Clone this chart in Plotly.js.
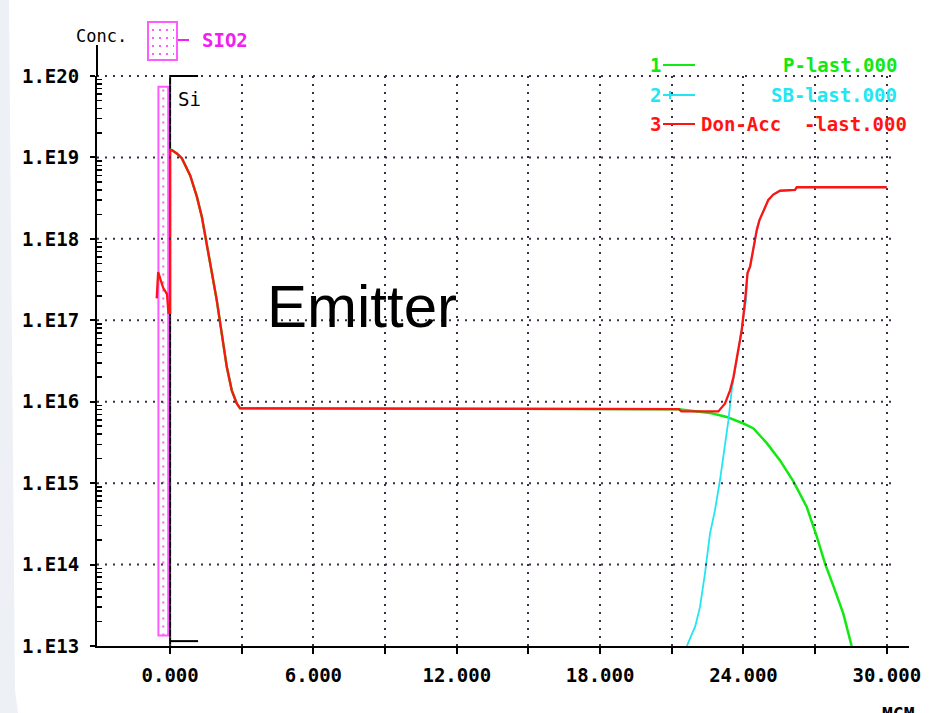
<!DOCTYPE html>
<html>
<head>
<meta charset="utf-8">
<script src="https://cdn.plot.ly/plotly-3.0.1.min.js"></script>
<style>html,body{margin:0;padding:0;background:#fff;}#chart{width:932px;height:713px;}</style>
</head>
<body>
<div id="chart"></div>
<script>
// ---------------- data (depth in um, concentration in cm^-3) ----------------
const xTicks = [0, 3, 6, 9, 12, 15, 18, 21, 24, 27, 30];
const xTickText = ['0.000', '', '6.000', '', '12.000', '', '18.000', '', '24.000', '', '30.000'];
const yTicks = [1e13, 1e14, 1e15, 1e16, 1e17, 1e18, 1e19, 1e20];
const yTickText = ['1.E13', '1.E14', '1.E15', '1.E16', '1.E17', '1.E18', '1.E19', '1.E20'];

// 3 - Don-Acc (net doping)
const donAccX = [-0.56, -0.50, -0.29, -0.13, -0.07, 0.00, 0.00, 0.07, 0.28, 0.49, 0.84, 1.12, 1.33, 1.54, 1.75, 1.95, 2.16, 2.37, 2.58, 2.79, 2.93,
  21.30, 21.40, 22.95, 23.23, 23.44, 23.58, 23.79, 23.93, 24.07, 24.17, 24.28, 24.42, 24.56, 24.67, 24.83, 25.04, 25.25, 25.53, 26.16, 26.23, 30.00];
const donAccY = [1.86e17, 3.9e17, 2.5e17, 2.1e17, 1.23e17, 1.23e17, 1.23e19, 1.23e19, 1.12e19, 9.8e18, 6.0e18, 3.3e18, 1.86e18, 7.9e17, 3.8e17, 1.78e17, 6.9e16, 2.7e16, 1.38e16, 9.5e15, 8.3e15,
  8.1e15, 7.6e15, 7.6e15, 9.5e15, 1.38e16, 2.0e16, 4.3e16, 7.6e16, 1.78e17, 3.8e17, 4.6e17, 7.9e17, 1.29e18, 1.70e18, 2.2e18, 3.0e18, 3.5e18, 3.9e18, 4.0e18, 4.3e18, 4.3e18];

// 1 - P
const pX = [0.00, 0.07, 0.28, 0.49, 0.84, 1.12, 1.33, 1.54, 1.75, 1.95, 2.16, 2.37, 2.58, 2.79, 2.93, 21.30, 22.67, 23.30, 24.00, 24.42, 24.98, 25.53, 26.09, 26.65, 27.07, 27.42, 27.77, 28.18, 28.53];
const pY = [1.23e19, 1.23e19, 1.12e19, 9.8e18, 6.0e18, 3.3e18, 1.86e18, 7.9e17, 3.8e17, 1.78e17, 6.9e16, 2.7e16, 1.38e16, 9.5e15, 8.3e15, 8.1e15, 7.2e15, 6.5e15, 5.4e15, 4.7e15, 3.1e15, 1.9e15, 1.05e15, 5.1e14, 2.2e14, 1.02e14, 5.4e13, 2.5e13, 1.0e13];

// 2 - SB (substrate boron)
const sbX = [21.63, 21.98, 22.18, 22.39, 22.60, 22.81, 23.02, 23.23, 23.37, 23.51, 23.79, 24.11, 24.17, 24.28, 24.42, 24.56, 24.67, 24.83, 25.04, 25.25, 25.53, 26.16, 26.23, 30.00];
const sbY = [1.0e13, 1.74e13, 3.0e13, 7.8e13, 2.4e14, 4.7e14, 1.1e15, 2.8e15, 5.9e15, 1.4e16, 4.3e16, 1.78e17, 3.8e17, 4.6e17, 7.9e17, 1.29e18, 1.70e18, 2.2e18, 3.0e18, 3.5e18, 3.9e18, 4.0e18, 4.3e18, 4.3e18];

// oxide layer extent (um) and drawn concentration span
const oxideX = [-0.49, -0.08];
const oxideY = [1.35e13, 7.4e19];

const legendNums = ['1', '2', '3'];
const legendNames = ['P-last.000', 'SB-last.000', 'Don-Acc  -last.000'];

// ---------------- styling ----------------
const GREEN = '#12e812', CYAN = '#22e6f2', RED = '#ff1414', MAG = '#f020f0', PINK = '#ff5cff';
const MONO = 'DejaVu Sans Mono, Liberation Mono, monospace';
const GRID = '#3c2c48';
const L = 97, R = 909, T = 76, B = 646;
const W = R - L, H = B - T;
const px = v => (v - L) / W;      // pixel -> paper x
const py = v => (B - v) / H;      // pixel -> paper y
const yc = c => (Math.log10(c) - 13) / 7;   // concentration -> paper y
const ye = e => (e - 13) / 7;               // decade exponent -> paper y

const traces = [
  {x: pX, y: pY, name: 'P-last.000', mode: 'lines', line: {color: GREEN, width: 2.5}},
  {x: sbX, y: sbY, name: 'SB-last.000', mode: 'lines', line: {color: CYAN, width: 1.8}},
  {x: donAccX, y: donAccY, name: 'Don-Acc -last.000', mode: 'lines', line: {color: RED, width: 2.3}}
];

const shapes = [];
// faint grey strip on left edge
shapes.push({type: 'path', xref: 'paper', yref: 'paper', layer: 'below',
  path: `M ${px(0)} ${py(0)} L ${px(9)} ${py(0)} L ${px(15)} ${py(690)} L ${px(18)} ${py(713)} L ${px(0)} ${py(713)} Z`,
  fillcolor: '#edf0f5', line: {width: 0}});
// horizontal dotted grid
for (let e = 14; e <= 20; e++) {
  shapes.push({type: 'line', xref: 'x', yref: 'paper', x0: -3.06, x1: 30.3, y0: ye(e), y1: ye(e),
    line: {color: GRID, width: 2, dash: '2px,6px'}});
}
// y axis extension above plot
shapes.push({type: 'line', xref: 'paper', yref: 'paper', x0: 0, x1: 0, y0: 1, y1: py(45), line: {color: '#000', width: 2}});
// oxide block
shapes.push({type: 'rect', xref: 'x', yref: 'paper', x0: oxideX[0], x1: oxideX[1], y0: yc(oxideY[0]), y1: yc(oxideY[1]),
  line: {color: PINK, width: 2}, layer: 'below'});
shapes.push({type: 'line', xref: 'x', yref: 'paper', x0: (oxideX[0] + oxideX[1]) / 2, x1: (oxideX[0] + oxideX[1]) / 2,
  y0: yc(oxideY[0]), y1: yc(oxideY[1]), line: {color: PINK, width: 2, dash: '2px,6px'}, layer: 'below'});
// Si surface boundary
shapes.push({type: 'line', xref: 'x', yref: 'paper', x0: 0, x1: 0, y0: 0, y1: 1, line: {color: '#000', width: 2}, layer: 'below'});
shapes.push({type: 'line', xref: 'x', yref: 'paper', x0: 0, x1: 1.17, y0: 1, y1: 1, line: {color: '#000', width: 2}});
shapes.push({type: 'line', xref: 'x', yref: 'paper', x0: 0, x1: 1.17, y0: ye(13.06), y1: ye(13.06), line: {color: '#000', width: 2}});
// SIO2 legend box
shapes.push({type: 'rect', xref: 'paper', yref: 'paper', x0: px(148), x1: px(177), y0: py(60), y1: py(22), line: {color: PINK, width: 2}});
[30, 38, 46, 54].forEach(yy => shapes.push({type: 'line', xref: 'paper', yref: 'paper', x0: px(152), x1: px(174), y0: py(yy), y1: py(yy),
  line: {color: PINK, width: 2, dash: '2px,5px'}}));
shapes.push({type: 'line', xref: 'paper', yref: 'paper', x0: px(178), x1: px(189), y0: py(40), y1: py(40), line: {color: MAG, width: 2}});
// legend line samples
const rowY = [65, 95, 124];
const rowColor = [GREEN, CYAN, RED];
rowY.forEach((yy, i) => shapes.push({type: 'line', xref: 'paper', yref: 'paper', x0: px(663), x1: px(695), y0: py(yy), y1: py(yy),
  line: {color: rowColor[i], width: 2}}));
shapes.push({type: 'line', xref: 'paper', yref: 'paper', x0: px(670), x1: px(670), y0: py(91), y1: py(99), line: {color: CYAN, width: 2}});

const annotations = [];
const ann = (text, x, y, color, size, opts) => Object.assign({text, x, y, xref: 'paper', yref: 'paper', showarrow: false,
  font: {family: MONO, size, color, weight: 'bold'}, xanchor: 'left', yanchor: 'middle'}, opts || {});
annotations.push(ann('Conc.', px(74), py(36), '#000', 17, {font: {family: MONO, size: 17, color: '#000'}}));
annotations.push(ann('SIO2', px(200), py(40), MAG, 19));
legendNums.forEach((n, i) => {
  annotations.push(ann(n, px(648), py(rowY[i]), rowColor[i], 19));
  annotations.push(ann(legendNames[i], px(i === 2 ? 909 : 899), py(rowY[i]), rowColor[i], 19, {xanchor: 'right'}));
});
annotations.push({text: 'Si', x: 0.25, y: 19.72, xref: 'x', yref: 'y', showarrow: false, xanchor: 'left', yanchor: 'middle',
  font: {family: MONO, size: 19, color: '#000'}});
annotations.push({text: 'Emitter', x: 8.04, y: 17.17, xref: 'x', yref: 'y', showarrow: false, xanchor: 'center', yanchor: 'middle',
  font: {family: 'Liberation Sans, Arial, sans-serif', size: 60, color: '#000'}});
annotations.push(ann('MCM', px(898), py(701), '#000', 18, {xanchor: 'center', yanchor: 'top'}));

const minorVals = [];
for (let e = 13; e < 20; e++) for (let k = 2; k <= 9; k++) minorVals.push(k * Math.pow(10, e));

const layout = {
  width: 932, height: 713,
  margin: {l: L, r: 932 - R, t: T, b: 713 - B, pad: 0},
  paper_bgcolor: '#fff', plot_bgcolor: '#fff',
  showlegend: false,
  xaxis: {
    range: [-3.06, 30.93], tickmode: 'array', tickvals: xTicks, ticktext: xTickText,
    showline: true, linecolor: '#000', linewidth: 2, zeroline: false,
    ticks: 'outside', ticklen: 6, tickwidth: 2, tickcolor: '#000',
    showgrid: true, gridcolor: GRID, gridwidth: 2, griddash: '2px,6px',
    tickfont: {family: MONO, size: 19, color: '#000', weight: 'bold'}, ticklabelstandoff: 5
  },
  yaxis: {
    type: 'log', range: [13, 20], tickmode: 'array', tickvals: yTicks, ticktext: yTickText,
    showline: true, linecolor: '#000', linewidth: 2, zeroline: false, showgrid: false,
    ticks: 'outside', ticklen: 5, tickwidth: 2, tickcolor: '#000',
    minor: {tickmode: 'array', tickvals: minorVals, ticks: 'inside', ticklen: 5, tickwidth: 1.5, tickcolor: '#000', showgrid: false},
    tickfont: {family: MONO, size: 19, color: '#000', weight: 'bold'}, ticklabelstandoff: 7
  },
  shapes, annotations
};

Plotly.newPlot('chart', traces, layout, {displayModeBar: false, staticPlot: true});
</script>
</body>
</html>
